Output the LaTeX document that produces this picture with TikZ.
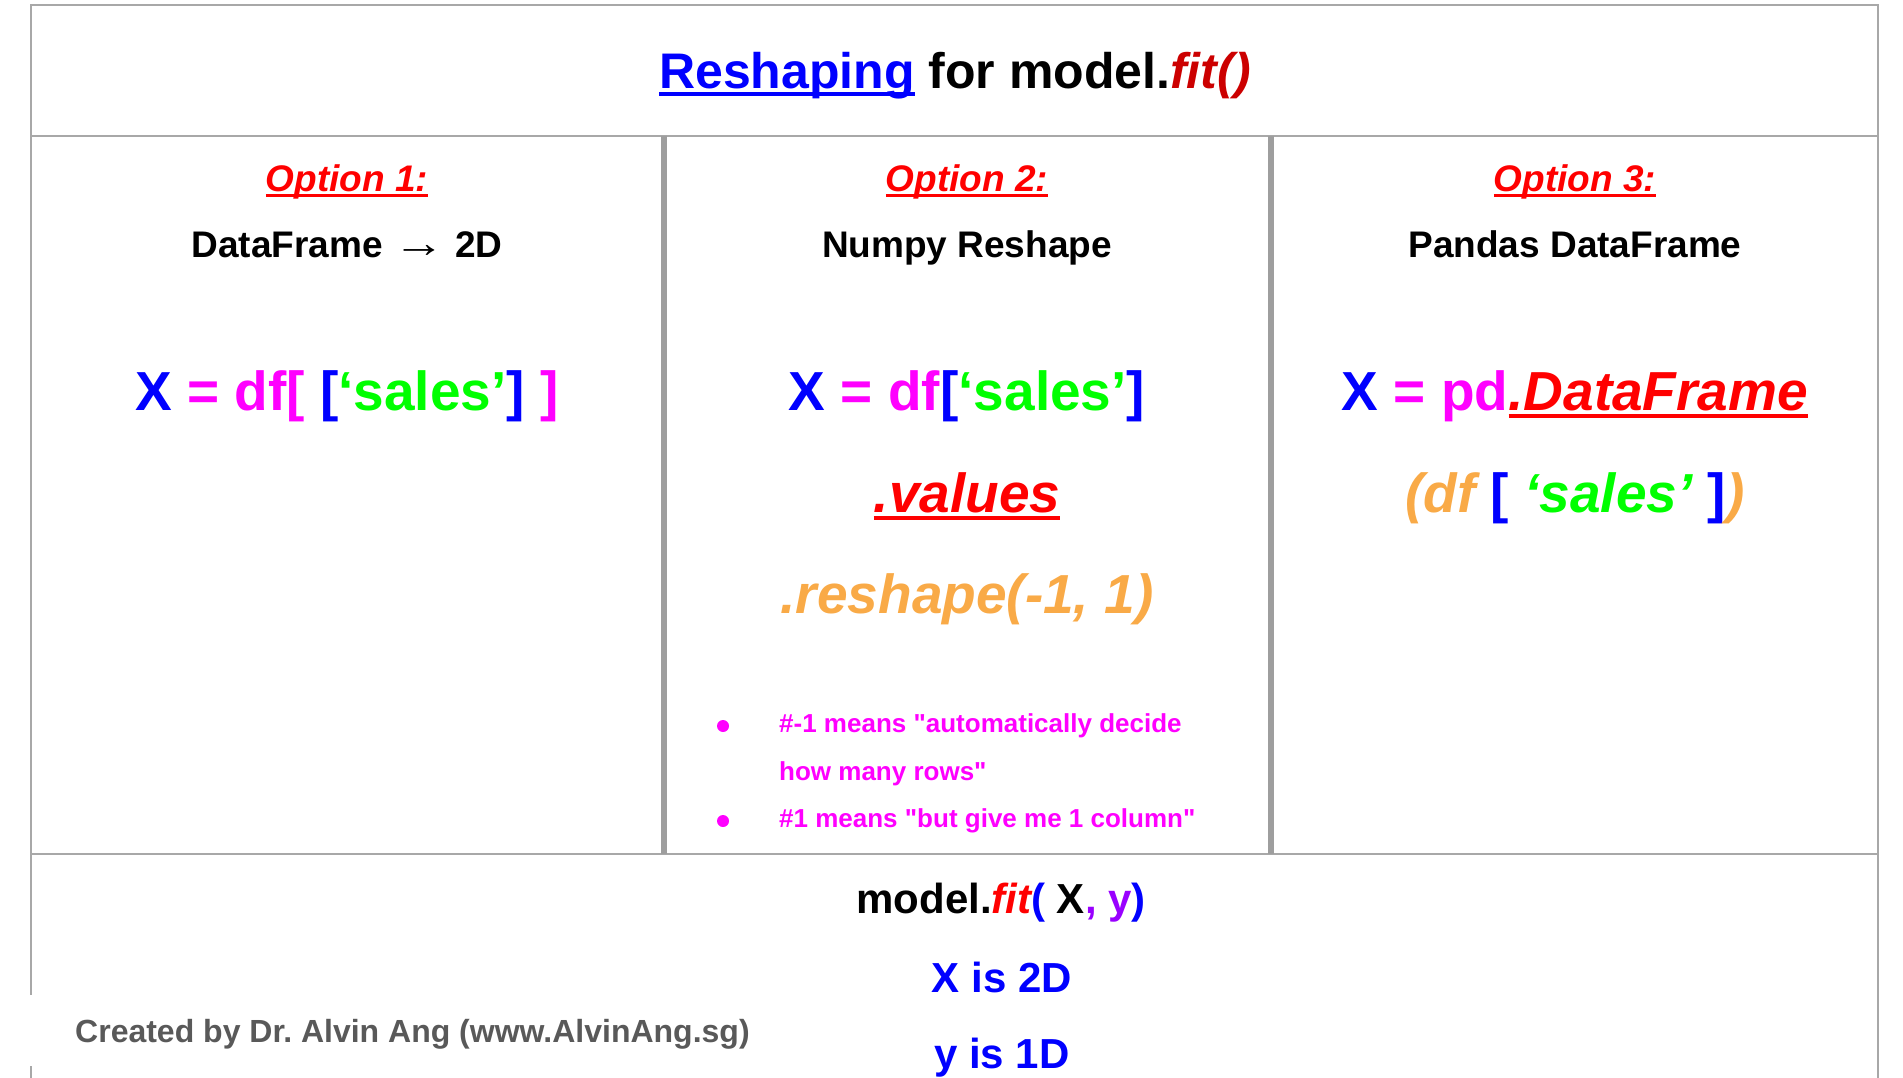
\documentclass[tikz,border=0pt]{standalone}
\usepackage{fontspec}
\setmainfont{Liberation Sans}[Ligatures=TeXOff]
\usepackage{xcolor}
\usepackage{graphicx}
\usepackage{tikz}

\definecolor{gridgray}{HTML}{A8A8A8}
\definecolor{divgray}{HTML}{9E9E9E}
\definecolor{titlered}{HTML}{CC0000}
\definecolor{ored}{HTML}{FF0000}
\definecolor{kblue}{HTML}{0000FF}
\definecolor{kmag}{HTML}{FF00FF}
\definecolor{kgreen}{HTML}{00FF00}
\definecolor{korange}{HTML}{F9AA47}
\definecolor{kpurple}{HTML}{9900FF}
\definecolor{credgray}{HTML}{595959}

\newcommand{\pxsize}[1]{\fontsize{#1}{#1}\selectfont}
\newcommand{\undl}[1]{\setbox0=\hbox{#1}\rlap{\rule[-0.14em]{\wd0}{0.075em}}\box0}
\frenchspacing

\begin{document}
\begin{tikzpicture}[x=1pt, y=-1pt,
	rule/.style = {draw=gridgray, line width=2pt},
	divider/.style = {draw=divgray, line width=6pt},
	heading/.style = {anchor=base, inner sep=0, text=ored, font=\pxsize{37}\bfseries\itshape},
	subhead/.style = {anchor=base, inner sep=0, font=\pxsize{37}\bfseries},
	code/.style = {anchor=base, inner sep=0, font=\pxsize{55}\bfseries},
	note/.style = {anchor=base west, inner sep=0, text=kmag, font=\pxsize{26}\bfseries},
	fitline/.style = {anchor=base, inner sep=0, font=\pxsize{42}\bfseries}]
	\useasboundingbox (0,0) rectangle (1903,1078);
	% table lines
	\draw [rule] (30,5) -- (1879,5);
	\draw [rule] (31,5) -- (31,1078);
	\draw [rule] (1878,5) -- (1878,1078);
	\draw [rule] (30,136) -- (1879,136);
	\draw [rule] (30,854) -- (1879,854);
	\foreach \x in {664,1271}
		\draw [divider] (\x,136) -- (\x,854);
	% title
	\node [anchor=base, inner sep=0, font=\pxsize{50}\bfseries] (title) at (955,89)
		{{\color{kblue}\undl{Reshaping}} for model.{\color{titlered}\itshape fit()}};
	% option 1
	\node [heading] (opt1) at (347,192) {\undl{Option 1:}};
	\node [subhead] (sub1) at (347,258) {DataFrame \scalebox{1.4}[1.15]{\mdseries →} 2D};
	\node [code] (codeA) at (347,410) {{\color{kblue}X} {\color{kmag}= df[} {\color{kblue}[}{\color{kgreen}‘sales’}{\color{kblue}]} {\color{kmag}]}};
	% option 2
	\node [heading] (opt2) at (967,192) {\undl{Option 2:}};
	\node [subhead] (sub2) at (967,258) {Numpy Reshape};
	\node [code] (codeB) at (967,410) {{\color{kblue}X} {\color{kmag}= df}{\color{kblue}[}{\color{kgreen}‘sales’}{\color{kblue}]}};
	\node [code, text=ored] (values) at (967,512) {\itshape\undl{.values}};
	\node [code, text=korange] (reshape) at (967,613) {\itshape .reshape(-1, 1)};
	\node [note] (n1) at (779,732) {\#-1 means "automatically decide};
	\node [note] (n2) at (779,780) {how many rows"};
	\node [note] (n3) at (779,827) {\#1 means "but give me 1 column"};
	\fill [kmag] (723,726) circle (6);
	\fill [kmag] (723,821) circle (6);
	% option 3
	\node [heading] (opt3) at (1575,192) {\undl{Option 3:}};
	\node [subhead] (sub3) at (1575,258) {Pandas DataFrame};
	\node [code] (codeC) at (1575,410) {{\color{kblue}X} {\color{kmag}= pd}{\color{ored}\itshape\undl{.DataFrame}}};
	\node [code] (codeD) at (1575,512) {{\color{korange}\itshape(df} {\color{kblue}[} {\color{kgreen}\itshape‘sales’} {\color{kblue}]}{\color{korange}\itshape)}};
	% bottom
	\node [fitline] (fit) at (1001,913) {model.{\color{ored}\itshape fit}{\color{kblue}(} X{\color{kpurple}, y}{\color{kblue})}};
	\node [fitline, text=kblue] (xdim) at (1002,992) {X is 2D};
	\node [fitline, text=kblue] (ydim) at (1002,1068) {y is 1D};
	\fill [white] (0,995) rectangle (800,1066);
	\node [anchor=base west, inner sep=0, text=credgray, font=\pxsize{32}\bfseries] (credit) at (75,1042)
		{Created by Dr. Alvin Ang (www.AlvinAng.sg)};
\end{tikzpicture}
\end{document}
